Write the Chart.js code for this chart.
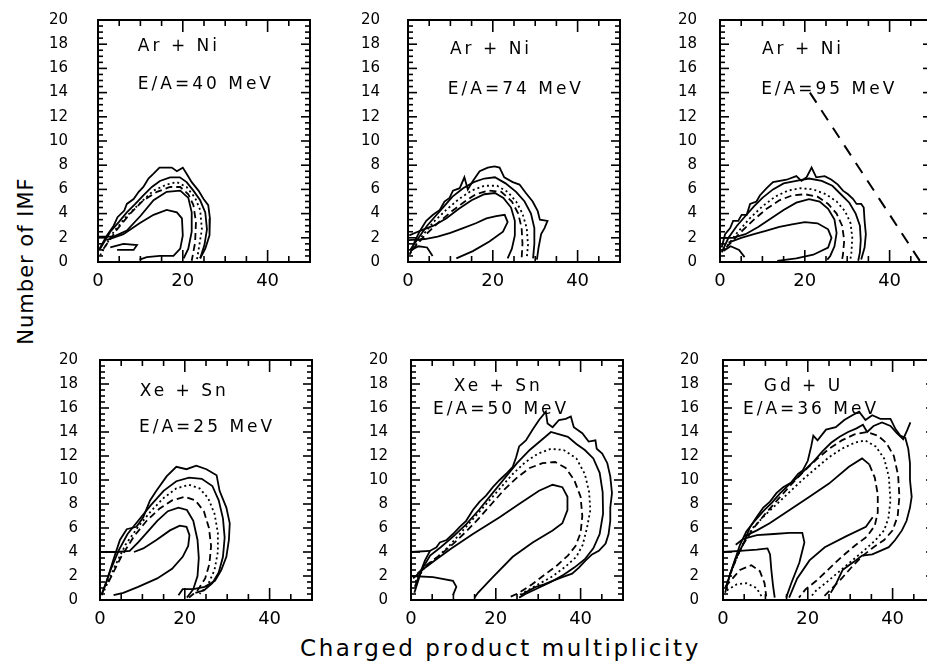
<!DOCTYPE html>
<html>
<head>
<meta charset="utf-8">
<script src="https://cdn.jsdelivr.net/npm/chart.js@4.4.1/dist/chart.umd.min.js"></script>
<style>
html, body { margin: 0; padding: 0; background: #fff; overflow: hidden; width: 927px; height: 668px; }
canvas { position: absolute; }
.title { position: absolute; font-family: "DejaVu Sans"; color: #000; white-space: nowrap; }
</style>
</head>
<body>
<canvas id="p1"></canvas>
<canvas id="p2"></canvas>
<canvas id="p3"></canvas>
<canvas id="p4"></canvas>
<canvas id="p5"></canvas>
<canvas id="p6"></canvas>
<div class="title" id="ytitle">Number of IMF</div>
<div class="title" id="xtitle">Charged product multiplicity</div>
<script>
// ===== AXES =====
const xTicks = [0, 20, 40];
const yTicks = [0, 2, 4, 6, 8, 10, 12, 14, 16, 18, 20];
const yMinor = [];
for (let i = 1; i < 40; i++) yMinor.push(i / 2);
const xMinor = [5, 10, 15, 20, 25, 30, 35, 40, 45];

// ===== CONTOURS (x = charged product multiplicity, y = number of IMF) =====
// Ar + Ni, 40 MeV
const ar40A = [[0.2,1.0],[2.1,2.2],[3.7,3.0],[4.6,3.7],[6.2,4.25],[6.8,4.8],[8.4,5.2],[9.6,5.8],[10.7,6.2],[11.9,6.9],[13.1,7.3],[14.5,7.8],[17.4,7.8],[18.6,7.5],[20.0,7.8],[20.9,7.3],[22.1,6.6],[23.7,5.9],[24.9,5.2],[26.0,4.7],[26.4,3.6],[26.3,2.2],[25.3,1.1],[24.1,0.3]];
const ar40B = [[0.5,1.1],[2.9,2.5],[4.9,3.3],[6.8,4.1],[8.8,4.8],[10.7,5.5],[12.7,6.2],[14.6,6.7],[17.0,7.0],[19.3,7.0],[20.9,6.6],[22.5,5.9],[24.1,5.1],[25.3,4.1],[25.7,2.7],[25.1,1.4],[24.1,0.3]];
const ar40C = [[0.5,0.55],[3.7,2.5],[6.8,3.8],[10.0,4.9],[13.1,5.9],[16.2,6.4],[18.6,6.6],[20.9,6.2],[22.9,5.3],[24.1,4.3],[24.5,2.7],[23.9,1.4],[23.3,0.1]];
const ar40D = [[1.3,1.1],[4.5,2.7],[7.6,4.0],[10.7,5.1],[13.9,5.8],[17.0,6.2],[19.4,6.2],[21.3,5.6],[22.5,4.7],[23.1,3.3],[22.9,1.6],[22.1,0.1]];
const ar40E = [[0.2,2.1],[3.7,2.1],[6.8,2.6],[10.0,3.8],[13.1,5.1],[16.2,5.8],[19.4,5.9],[21.3,5.3],[22.1,4.1],[22.1,2.5],[21.3,1.1],[20.2,0.3]];
const ar40F = [[2.0,1.8],[6.0,2.3],[9.8,3.2],[13.1,3.9],[16.2,4.3],[18.6,4.1],[19.8,3.6],[20.0,2.2],[19.4,1.1],[17.8,0.5],[14.6,0.5],[11.5,0.4],[9.8,0.2]];
const ar40G = [[2.9,1.2],[6.0,1.5],[9.2,1.4],[8.4,1.0],[4.5,1.0]];

// Ar + Ni, 74 MeV
const ar74A = [[0.4,0.6],[1.6,1.7],[2.7,2.5],[4.3,3.4],[5.9,3.9],[7.5,4.3],[8.6,5.0],[9.8,5.3],[10.6,5.9],[12.2,6.1],[13.3,7.0],[14.1,6.0],[15.3,6.7],[16.9,7.5],[18.8,7.8],[20.4,7.9],[21.6,7.8],[22.7,7.0],[24.7,6.6],[26.3,6.4],[27.8,5.7],[29.4,5.0],[30.6,4.2],[31.1,3.5],[32.9,3.4],[32.2,2.8],[31.4,2.3],[30.8,1.2],[30.4,0.2]];
const ar74B = [[0.5,1.0],[2.5,2.0],[4.5,3.0],[6.5,3.8],[8.5,4.6],[10.5,5.4],[13.0,6.1],[15.5,6.6],[18.0,6.9],[20.5,7.0],[23.0,6.5],[25.5,5.8],[27.5,5.0],[29.0,4.0],[29.8,2.8],[29.8,1.5],[29.5,0.3]];
const ar74C = [[0.5,0.7],[3.0,2.0],[6.0,3.3],[9.0,4.3],[12.0,5.2],[15.0,5.9],[18.0,6.3],[21.0,6.3],[23.5,5.8],[25.5,5.0],[27.0,4.0],[28.0,2.8],[28.3,1.4],[28.0,0.3]];
const ar74D = [[1.0,1.0],[4.0,2.2],[7.0,3.2],[10.0,4.1],[13.0,4.9],[16.0,5.6],[19.0,5.9],[22.0,5.8],[24.5,5.0],[26.0,4.0],[26.8,2.8],[27.0,1.5],[26.8,0.3]];
const ar74E = [[0.3,2.2],[3.0,2.6],[6.0,3.0],[9.0,3.6],[12.0,4.4],[15.0,5.1],[18.0,5.6],[20.5,5.7],[22.5,5.3],[24.3,4.5],[25.2,3.4],[25.2,2.2],[24.5,1.1],[23.5,0.3]];
const ar74F = [[0.2,1.8],[4.0,1.9],[7.0,2.1],[10.0,2.4],[13.0,2.8],[16.0,3.2],[18.5,3.6],[20.8,3.8],[22.8,3.9],[23.5,3.3],[22.4,2.5],[19.2,1.7],[15.3,0.9],[11.4,0.3]];
const ar74G = [[0.8,1.0],[2.5,1.3],[4.5,1.2],[5.8,0.5]];

// Ar + Ni, 95 MeV
const ar95A = [[0.4,1.2],[1.2,2.3],[2.4,2.8],[3.1,3.4],[4.3,3.4],[5.1,3.9],[6.3,3.9],[7.1,4.8],[8.6,5.0],[9.4,5.5],[11.0,6.1],[12.5,6.6],[14.1,6.7],[15.7,6.8],[18.0,7.1],[19.2,6.7],[20.4,7.0],[21.6,7.8],[22.7,7.0],[24.7,7.1],[26.3,6.8],[27.8,6.4],[29.0,5.9],[30.2,5.6],[31.4,5.2],[32.2,4.8],[33.3,4.8],[33.9,4.5],[34.1,3.4],[34.4,2.3],[34.1,1.2],[33.3,0.2]];
const ar95B = [[0.4,0.8],[2.0,2.0],[4.0,3.0],[6.0,3.8],[8.0,4.6],[10.0,5.3],[12.5,6.0],[15.0,6.5],[18.0,6.7],[21.0,6.9],[24.0,6.7],[26.5,6.3],[28.5,5.6],[30.5,4.9],[32.0,4.0],[33.0,3.0],[33.2,1.8],[33.0,0.8],[32.6,0.1]];
const ar95C = [[1.0,1.0],[4.0,2.4],[7.0,3.6],[10.0,4.6],[13.0,5.4],[16.0,5.9],[19.0,6.1],[22.0,6.0],[25.0,5.6],[27.5,5.0],[29.5,4.2],[30.8,3.2],[31.2,2.0],[31.0,0.8],[30.7,0.1]];
const ar95D = [[1.5,1.2],[5.0,2.5],[8.0,3.5],[11.0,4.4],[14.0,5.1],[17.0,5.5],[20.0,5.6],[23.0,5.4],[25.5,4.8],[27.5,4.0],[28.8,3.0],[29.3,1.8],[29.0,0.6],[28.7,0.0]];
const ar95E = [[0.2,2.0],[3.0,2.0],[6.0,2.3],[9.0,2.9],[12.0,3.6],[15.0,4.3],[18.0,4.9],[21.0,5.2],[23.5,5.0],[25.5,4.4],[27.0,3.5],[27.5,2.4],[27.0,1.3],[26.0,0.5],[25.3,0.2]];
const ar95F = [[2.0,1.6],[5.0,2.0],[8.0,2.3],[11.0,2.6],[14.0,2.9],[17.0,3.1],[20.0,3.3],[23.0,3.2],[25.5,2.7],[26.3,2.0],[25.5,1.2],[22.0,0.6],[18.0,0.3],[13.5,0.1]];
const ar95G = [[0.8,0.9],[2.5,1.3],[4.5,1.0],[5.8,0.4]];
const ar95Limit = [[21.2,14.0],[47.3,0.0]];

// Xe + Sn, 25 MeV
const xe25A = [[0.4,0.5],[1.6,1.6],[3.1,3.3],[4.7,5.0],[6.3,5.9],[8.6,6.1],[10.2,6.9],[11.8,8.3],[13.3,9.1],[15.7,10.3],[18.0,11.1],[20.4,10.9],[22.7,11.2],[25.1,10.9],[27.5,10.4],[28.2,9.1],[29.8,7.7],[30.6,6.4],[30.4,5.0],[29.8,3.6],[28.6,2.5],[27.1,1.6],[24.7,1.1],[22.0,0.9],[19.5,0.9],[18.5,0.4]];
const xe25B = [[0.4,0.4],[2.5,2.5],[4.5,4.2],[6.5,5.5],[9.0,6.6],[12.0,7.9],[15.0,9.1],[18.0,9.9],[21.0,10.2],[24.0,10.1],[26.5,9.5],[28.0,8.3],[29.0,6.8],[29.4,5.2],[29.0,3.6],[28.0,2.3],[26.5,1.4],[24.5,0.8],[22.5,0.6]];
const xe25C = [[1.0,0.8],[3.5,2.8],[6.0,4.6],[9.0,6.1],[12.0,7.4],[15.0,8.5],[18.0,9.3],[21.0,9.6],[23.5,9.3],[25.5,8.5],[27.0,7.2],[27.8,5.6],[27.8,4.0],[27.0,2.5],[25.5,1.3],[23.5,0.5]];
const xe25D = [[2.0,1.5],[5.0,3.6],[8.0,5.3],[11.0,6.6],[14.0,7.6],[17.0,8.3],[20.0,8.6],[22.5,8.3],[24.5,7.4],[25.7,6.0],[26.2,4.5],[25.8,3.0],[24.8,1.8],[23.0,0.8],[21.0,0.2]];
const xe25E = [[0.0,4.0],[4.0,4.0],[7.0,4.1],[9.0,4.8],[11.0,5.6],[13.5,6.6],[16.0,7.4],[18.5,7.7],[20.5,7.5],[22.0,6.6],[23.0,5.0],[23.3,3.5],[23.0,2.0],[22.0,0.9],[20.5,0.2]];
const xe25F = [[8.0,4.0],[10.2,4.3],[13.3,5.0],[16.5,5.8],[18.8,6.2],[20.4,6.1],[21.1,5.4],[20.8,4.5],[19.5,3.6],[17.0,2.6],[13.5,1.8],[9.0,1.1],[5.5,0.6],[3.2,0.4]];

// Xe + Sn, 50 MeV
const xe50A = [[0.9,1.1],[2.1,2.2],[3.3,3.3],[4.5,4.1],[6.0,4.4],[6.8,4.8],[8.4,5.0],[9.9,5.5],[11.5,6.1],[13.0,6.6],[14.6,7.5],[16.2,8.2],[17.7,8.7],[19.3,9.4],[20.9,10.0],[22.4,10.5],[24.0,11.1],[24.8,11.9],[25.5,12.8],[27.1,13.3],[28.7,14.2],[30.2,15.0],[31.8,15.7],[32.2,14.7],[33.4,14.4],[34.9,15.0],[36.5,15.1],[37.7,15.3],[38.4,14.4],[40.4,13.9],[41.9,13.2],[43.5,13.3],[43.8,12.6],[45.1,12.2],[46.3,11.4],[47.0,10.3],[47.4,8.9],[47.0,7.7],[47.0,6.6],[46.6,5.5],[45.9,4.7],[44.3,4.1],[42.7,3.8],[41.2,3.3],[39.6,2.7],[38.0,2.2],[35.7,1.9],[33.4,1.6],[31.4,1.3],[29.5,1.1],[27.9,0.8],[25.9,0.4]];
const xe50B = [[0.8,0.6],[2.5,2.5],[4.5,3.7],[7.0,4.4],[10.0,5.3],[13.0,6.3],[16.0,7.5],[19.0,8.8],[22.0,10.1],[25.0,11.4],[28.0,12.5],[31.0,13.4],[33.0,14.0],[35.0,13.8],[37.0,13.6],[39.0,13.0],[41.0,12.5],[43.0,11.8],[44.5,10.6],[45.2,9.0],[45.3,7.2],[44.5,5.5],[43.0,4.3],[41.0,3.4],[38.5,2.7],[36.0,2.1],[33.0,1.5],[30.0,1.0],[27.0,0.5],[25.5,0.2]];
const xe50C = [[1.0,1.5],[3.0,2.6],[6.0,3.5],[9.0,4.5],[12.0,5.7],[15.0,6.9],[18.0,8.1],[21.0,9.3],[24.0,10.5],[27.0,11.5],[30.0,12.2],[33.0,12.6],[36.0,12.5],[39.0,11.8],[41.0,10.5],[42.0,9.0],[42.3,7.5],[41.5,6.0],[40.5,4.6],[39.0,3.6],[36.5,2.8],[33.5,2.0],[30.5,1.4],[27.5,0.8],[25.0,0.3]];
const xe50D = [[1.5,2.2],[4.0,3.0],[7.0,3.8],[10.0,4.7],[13.0,5.7],[16.0,6.8],[19.0,8.0],[22.0,9.2],[25.0,10.2],[28.0,11.0],[31.0,11.4],[34.0,11.5],[36.5,11.0],[38.5,10.0],[40.0,8.6],[40.4,7.0],[40.0,5.6],[38.8,4.5],[37.0,3.7],[34.5,2.9],[31.5,2.1],[28.5,1.3],[25.5,0.6],[23.0,0.2]];
const xe50F = [[0.5,1.8],[3.0,2.6],[6.0,3.4],[9.5,4.3],[14.6,5.5],[20.9,6.9],[25.5,8.0],[30.2,9.1],[33.4,9.6],[35.7,9.4],[36.9,8.6],[36.9,7.5],[35.7,6.4],[33.4,5.8],[28.7,4.8],[24.0,3.6],[19.3,1.9],[15.8,0.6],[15.0,0.2]];
const xe50G = [[0.0,2.0],[5.2,1.9],[9.9,1.6],[10.7,1.1],[9.9,0.4]];
const xe50H = [[0.0,4.0],[4.5,4.1]];

// Gd + U, 36 MeV
const gd36A = [[0.5,0.6],[1.7,2.2],[2.9,3.4],[4.0,4.1],[5.2,5.0],[6.4,6.1],[7.9,6.9],[9.5,7.7],[11.1,8.2],[12.6,8.9],[14.2,9.4],[16.1,9.8],[17.7,10.5],[18.8,10.8],[20.0,11.6],[20.8,12.8],[21.3,13.7],[22.3,13.3],[24.3,14.2],[26.6,14.4],[28.6,15.0],[30.5,15.4],[32.1,15.7],[33.6,15.0],[35.2,15.4],[37.1,15.1],[39.5,15.1],[40.6,14.3],[41.8,13.7],[43.0,13.5],[43.7,12.6],[44.1,11.4],[44.1,10.0],[44.5,8.6],[44.1,7.7],[43.3,6.6],[42.2,5.8],[40.6,5.0],[39.1,4.4],[37.1,4.1],[35.2,3.8],[32.8,3.7],[31.3,3.3],[29.7,2.9],[28.2,2.5],[27.4,1.9],[26.6,1.3],[25.4,0.6]];
const gd36B = [[0.8,1.2],[2.5,3.0],[4.0,4.6],[5.5,5.7],[7.5,6.6],[9.5,7.4],[11.5,8.1],[13.5,8.9],[15.5,9.6],[17.5,10.2],[19.5,10.9],[21.5,11.6],[23.5,12.4],[25.5,13.1],[27.5,13.6],[29.5,14.0],[31.5,14.3],[33.0,14.6],[34.0,14.0],[35.5,14.5],[37.5,14.8],[39.5,14.5],[41.0,13.9],[42.5,13.4],[43.5,14.2],[44.2,14.8]];
const gd36C = [[1.5,2.0],[4.0,4.2],[7.0,5.9],[10.0,7.2],[13.0,8.4],[16.0,9.6],[19.0,10.7],[22.0,11.7],[25.0,12.6],[28.0,13.3],[31.0,13.8],[34.0,14.0],[36.5,13.7],[38.5,13.1],[40.3,12.0],[41.3,10.4],[41.6,8.6],[41.2,7.0],[40.0,5.8],[38.0,5.0],[35.5,4.4],[33.0,3.7],[30.5,2.8],[28.0,1.8],[25.5,0.9],[23.5,0.2]];
const gd36D = [[1.0,1.5],[3.0,3.3],[5.0,4.9],[7.0,6.0],[10.0,7.1],[13.0,8.1],[16.0,9.1],[19.0,10.1],[22.0,11.0],[25.0,11.9],[28.0,12.6],[31.0,13.1],[33.5,13.3],[36.0,12.8],[38.0,11.8],[39.1,10.3],[39.5,8.3],[39.0,6.8],[38.0,5.8],[36.0,5.0],[33.5,4.2],[30.5,3.3],[27.5,2.4],[24.5,1.5],[22.0,0.8],[20.8,0.3]];
const gd36E = [[5.0,5.3],[8.0,5.8],[11.0,6.4],[15.7,7.5],[20.4,8.6],[25.0,9.7],[29.7,11.1],[32.8,11.8],[34.5,11.3]];
const gd36ELow = [[15.6,0.2],[17.5,1.8],[20.4,3.3],[24.0,4.4],[29.0,5.3],[33.7,6.1],[35.3,6.9]];
const gd36E2 = [[34.5,11.3],[35.8,10.2],[36.5,8.8],[36.5,7.3],[35.8,6.2],[34.0,5.3],[31.0,4.5],[28.0,3.6],[25.0,2.6],[22.0,1.6],[19.5,0.9],[17.9,0.2]];
const gd36I1 = [[0.0,4.0],[4.0,4.1],[8.0,4.2],[10.5,4.3],[11.1,3.8],[11.4,2.5],[11.8,1.2],[12.2,0.2]];
const gd36I2 = [[3.0,4.6],[4.8,5.1],[8.0,5.4],[12.0,5.5],[15.7,5.6],[18.7,5.6],[19.2,4.8],[18.0,3.1],[16.1,1.4],[14.9,0.2]];
const gd36I3 = [[0.5,1.1],[4.0,2.5],[6.7,2.9],[8.7,2.4],[9.8,1.4],[10.2,0.3]];
const gd36I4 = [[0.9,0.8],[3.2,1.3],[5.5,1.4],[7.9,1.0],[9.1,0.3]];

// ===== PANELS =====
function contour(pts, style) {
    return {
        data: pts.map(p => ({ x: p[0], y: p[1] })),
        showLine: true,
        pointRadius: 0,
        borderColor: '#000',
        borderWidth: style === 'limit' ? 2 : 1.8,
        borderDash: style === 'dot' ? [2, 3] : style === 'dash' ? [7, 4] : style === 'limit' ? [12, 9] : [],
        fill: false,
        tension: 0
    };
}

// inner tick marks as short segments along the frame (length given in pixels)
function tickMarks(plotH) {
    const ux = 212 / 50;
    const uy = plotH / 20;
    const sets = [];
    const seg = pts => ({
        data: pts.map(p => ({ x: p[0], y: p[1] })),
        showLine: true, pointRadius: 0, borderColor: '#000', borderWidth: 1.6, fill: false
    });
    yMinor.forEach(v => {
        const len = (v % 2 === 0 ? 9 : 5) / ux;
        sets.push(seg([[0, v], [len, v]]));
        sets.push(seg([[50 - len, v], [50, v]]));
    });
    xMinor.forEach(v => {
        const len = (v % 20 === 0 ? 12 : 6) / uy;
        sets.push(seg([[v, 0], [v, len]]));
        sets.push(seg([[v, 20 - len], [v, 20]]));
    });
    return sets;
}

const panels = [
    { id: 'p1', left: 98, top: 20, h: 242, yPad: 30,
      lines: [[ar40A], [ar40B], [ar40C, 'dot'], [ar40D, 'dash'], [ar40E], [ar40F], [ar40G]],
      labels: [['Ar + Ni', 9.4, 17.4], ['E/A=40 MeV', 9.4, 14.3]] },
    { id: 'p2', left: 408, top: 20, h: 242, yPad: 28,
      lines: [[ar74A], [ar74B], [ar74C, 'dot'], [ar74D, 'dash'], [ar74E], [ar74F], [ar74G]],
      labels: [['Ar + Ni', 9.9, 17.2], ['E/A=74 MeV', 9.4, 13.9]] },
    { id: 'p3', left: 720, top: 20, h: 242, yPad: 23,
      lines: [[ar95A], [ar95B], [ar95C, 'dot'], [ar95D, 'dash'], [ar95E], [ar95F], [ar95G], [ar95Limit, 'limit']],
      labels: [['Ar + Ni', 9.9, 17.2], ['E/A=95 MeV', 9.7, 13.9]] },
    { id: 'p4', left: 100, top: 360, h: 240, yPad: 22,
      lines: [[xe25A], [xe25B], [xe25C, 'dot'], [xe25D, 'dash'], [xe25E], [xe25F]],
      labels: [['Xe + Sn', 9.4, 17.0], ['E/A=25 MeV', 9.2, 14.0]] },
    { id: 'p5', left: 411, top: 360, h: 240, yPad: 23,
      lines: [[xe50A], [xe50B], [xe50C, 'dot'], [xe50D, 'dash'], [xe50F], [xe50G], [xe50H]],
      labels: [['Xe + Sn', 10.1, 17.4], ['E/A=50 MeV', 5.2, 15.5]] },
    { id: 'p6', left: 723, top: 360, h: 240, yPad: 24,
      lines: [[gd36A], [gd36B], [gd36C, 'dash'], [gd36D, 'dot'], [gd36E], [gd36ELow], [gd36E2, 'dash'],
              [gd36I1], [gd36I2], [gd36I3, 'dash'], [gd36I4, 'dot']],
      labels: [['Gd + U', 9.6, 17.4], ['E/A=36 MeV', 4.7, 15.5]] }
];
const panelLabels = {};
panels.forEach(p => { panelLabels[p.id] = p.labels; });

// ===== FRAME AND PANEL LABELS =====
const panelFramePlugin = {
    id: 'panelFrame',
    afterDraw(chart) {
        const ctx = chart.ctx;
        const a = chart.chartArea;
        const xs = chart.scales.x;
        const ys = chart.scales.y;
        ctx.save();
        ctx.strokeStyle = '#000';
        ctx.lineWidth = 2;
        ctx.strokeRect(a.left, a.top, a.right - a.left, a.bottom - a.top);
        ctx.restore();

        ctx.save();
        ctx.fillStyle = '#000';
        ctx.font = '17px "DejaVu Sans"';
        ctx.textBaseline = 'alphabetic';
        ctx.textAlign = 'left';
        if ('letterSpacing' in ctx) ctx.letterSpacing = '3px';
        (panelLabels[chart.canvas.id] || []).forEach(l => {
            ctx.fillText(l[0], xs.getPixelForValue(l[1]), ys.getPixelForValue(l[2]));
        });
        ctx.restore();
    }
};

panels.forEach(p => {
    const canvas = document.getElementById(p.id);
    canvas.width = 58 + 212 + 6;
    canvas.height = 12 + p.h + 30;
    canvas.style.left = (p.left - 58) + 'px';
    canvas.style.top = (p.top - 12) + 'px';

    new Chart(canvas, {
        type: 'scatter',
        data: { datasets: p.lines.map(l => contour(l[0], l[1])).concat(tickMarks(p.h)) },
        options: {
            responsive: false,
            animation: false,
            devicePixelRatio: 1,
            layout: { padding: { top: 12, right: 6 } },
            plugins: {
                legend: { display: false },
                tooltip: { enabled: false }
            },
            scales: {
                x: {
                    min: 0,
                    max: 50,
                    afterBuildTicks: s => { s.ticks = xTicks.map(v => ({ value: v })); },
                    afterFit: s => { s.height = 30; s.paddingLeft = 0; s.paddingRight = 0; },
                    grid: { display: false, drawTicks: false },
                    border: { display: false },
                    ticks: { color: '#000', padding: 9, font: { family: 'DejaVu Sans', size: 18 } }
                },
                y: {
                    min: 0,
                    max: 20,
                    afterBuildTicks: s => { s.ticks = yTicks.map(v => ({ value: v })); },
                    afterFit: s => { s.width = 58; s.paddingTop = 0; s.paddingBottom = 0; },
                    grid: { display: false, drawTicks: false },
                    border: { display: false },
                    ticks: { color: '#000', padding: p.yPad, font: { family: 'DejaVu Sans', size: 15 } }
                }
            }
        },
        plugins: [panelFramePlugin]
    });
});

// axis titles
const yt = document.getElementById('ytitle');
yt.style.cssText += 'font-size:21px;letter-spacing:1px;left:26px;top:261px;transform:translate(-50%,-50%) rotate(-90deg);';
const xt = document.getElementById('xtitle');
xt.style.cssText += 'font-size:23px;letter-spacing:2.6px;line-height:23px;left:300px;top:637px;';
</script>
</body>
</html>
